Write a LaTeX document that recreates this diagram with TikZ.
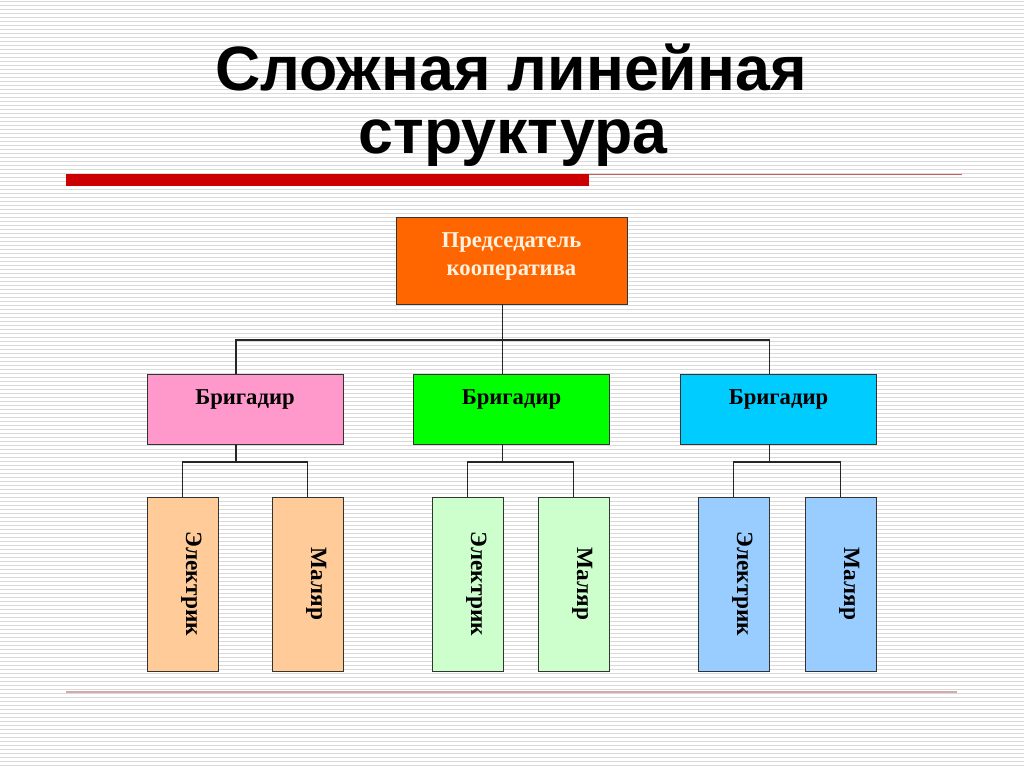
\documentclass[tikz,border=0pt]{standalone}
\usepackage{fontspec}
\setmainfont{Liberation Serif}
\newfontfamily\titlefont{Liberation Sans}
\usetikzlibrary{
  shapes,
  positioning,
}
\definecolor{chairfill}{RGB}{255,102,0}
\definecolor{chairtext}{RGB}{255,242,224}
\definecolor{pinkfill}{RGB}{255,153,204}
\definecolor{greenfill}{RGB}{0,255,0}
\definecolor{cyanfill}{RGB}{0,204,255}
\definecolor{peachfill}{RGB}{255,204,153}
\definecolor{mintfill}{RGB}{204,255,204}
\definecolor{skyfill}{RGB}{153,204,255}
\definecolor{stripe}{RGB}{218,218,218}
\definecolor{barred}{RGB}{204,0,0}
\definecolor{thinred}{RGB}{192,96,96}
\definecolor{footline}{RGB}{212,169,174}
\definecolor{edge}{RGB}{51,51,51}
\tikzstyle{title} = [
font=\titlefont\bfseries\fontsize{47}{60}\selectfont,
anchor=base
]
\tikzstyle{boss} = [
rectangle,
draw=edge,
fill=chairfill,
text=chairtext,
font=\bfseries\fontsize{17}{21}\selectfont,
align=center,
minimum width=173.25pt,
minimum height=65.25pt,
text depth=10pt,
outer sep=0pt
]
\tikzstyle{brigade} = [
rectangle,
draw=edge,
font=\bfseries\fontsize{17}{20}\selectfont,
minimum width=147pt,
minimum height=52.5pt,
text depth=18pt,
outer sep=0pt
]
\tikzstyle{worker} = [
rectangle,
draw=edge,
rotate=-90,
font=\bfseries\fontsize{17.5}{22}\selectfont,
minimum width=130.5pt,
minimum height=53.25pt,
text depth=17pt,
outer sep=0pt
]
\tikzstyle{link} = [draw=black!85, line width=0.9pt]

\begin{document}
\begin{tikzpicture}[x=0.75pt, y=-0.75pt]
  % Background
  \useasboundingbox (0,0) rectangle (1024,767);
  \fill[white] (0,0) rectangle (1024,767);
  \foreach \i in {0,...,191}
    \draw[stripe, line width=1.1pt] (0,4*\i+1.5) -- (1024,4*\i+1.5);

  % Title
  \node [title] (t1) at (511,90) {Сложная линейная};
  \node [title] (t2) at (513,153) {структура};
  \fill[barred] (66,174) rectangle (589,186);
  \draw[thinred, line width=0.8pt] (589,174.5) -- (962,174.5);
  \draw[footline, line width=1.6pt] (66,692) -- (957,692);

  % Place nodes
  \node [boss] (chair) at (511.5,260.5) {Председатель\\кооператива};

  \node [brigade, fill=pinkfill] (b1) at (245,409) {Бригадир};
  \node [brigade, fill=greenfill] (b2) at (511.5,409) {Бригадир};
  \node [brigade, fill=cyanfill] (b3) at (778.5,409) {Бригадир};

  \node [worker, fill=peachfill] (e1) at (182.5,584) {Электрик};
  \node [worker, fill=peachfill] (m1) at (307.5,584) {Маляр};
  \node [worker, fill=mintfill] (e2) at (467.5,584) {Электрик};
  \node [worker, fill=mintfill] (m2) at (573.5,584) {Маляр};
  \node [worker, fill=skyfill] (e3) at (733.5,584) {Электрик};
  \node [worker, fill=skyfill] (m3) at (840.5,584) {Маляр};

  % Draw edges
  \path [link] ([xshift=-7pt]chair.south) -- ([xshift=-7pt]b2.north);
  \path [link] ([xshift=-6.75pt]b1.north) -- ++(0,-34) -| ([xshift=-7pt]b3.north);

  \path [link] ([xshift=-6.75pt]b1.south) -- ++(0,18);
  \path [link] ([xshift=-7pt]b2.south) -- ++(0,18);
  \path [link] ([xshift=-7pt]b3.south) -- ++(0,18);

  \path [link] (e1.west) -- ++(0,-35) -| (m1.west);
  \path [link] (e2.west) -- ++(0,-35) -| (m2.west);
  \path [link] (e3.west) -- ++(0,-35) -| (m3.west);
\end{tikzpicture}
\end{document}
